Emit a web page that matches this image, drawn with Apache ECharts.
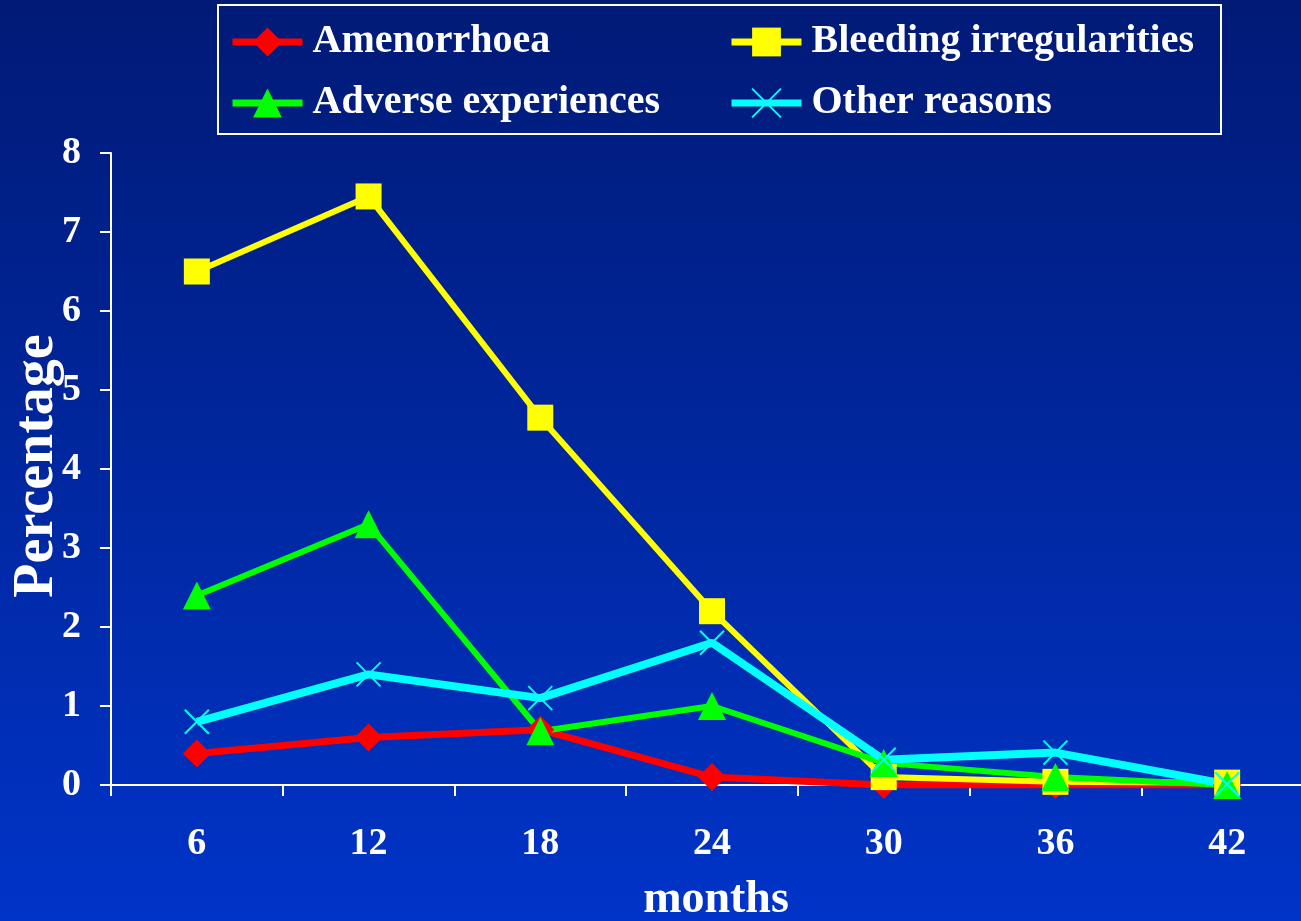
<!DOCTYPE html>
<html>
<head>
<meta charset="utf-8">
<script src="https://cdn.jsdelivr.net/npm/echarts@6/dist/echarts.min.js"></script>
<style>
html,body{margin:0;padding:0;background:#0028a0;overflow:hidden;}
#c{width:1313px;height:921px;}
</style>
</head>
<body>
<div id="c"></div>
<script>
const months = ['6', '12', '18', '24', '30', '36', '42'];
const amenorrhoea = [0.4, 0.6, 0.7, 0.1, 0.0, 0.0, 0.0];
const bleeding = [6.5, 7.45, 4.65, 2.2, 0.1, 0.04, 0.03];
const adverse = [2.4, 3.3, 0.68, 1.0, 0.28, 0.1, 0.0];
const other = [0.8, 1.4, 1.1, 1.8, 0.32, 0.41, 0.01];
const yTicks = [0, 1, 2, 3, 4, 5, 6, 7, 8];

const FONT = '"Liberation Serif", "Times New Roman", serif';
const chart = echarts.init(document.getElementById('c'), null, {renderer: 'canvas'});

const legendText = {color: '#ffffff', fontFamily: FONT, fontWeight: 'bold', fontSize: 40, lineHeight: 40, padding: [0, 0, 0, 5]};

chart.setOption({
  backgroundColor: {
    type: 'linear', x: 0, y: 0, x2: 0, y2: 1,
    colorStops: [{offset: 0, color: '#001a76'}, {offset: 1, color: '#0034c8'}]
  },
  animation: false,
  grid: {left: 111, top: 153, right: 0, bottom: 136, containLabel: false},
  legend: [
    {
      data: ['Amenorrhoea', 'Adverse experiences'],
      orient: 'vertical', left: 229, top: 22, padding: 0,
      itemWidth: 70, itemHeight: 36, itemGap: 21,
      lineStyle: {width: 7},
      textStyle: legendText
    },
    {
      data: ['Bleeding irregularities', 'Other reasons'],
      orient: 'vertical', left: 728, top: 22, padding: 0,
      itemWidth: 70, itemHeight: 36, itemGap: 21,
      lineStyle: {width: 7},
      textStyle: legendText
    }
  ],
  graphic: [
    {type: 'rect', shape: {x: 218, y: 5, width: 1003, height: 129},
     style: {fill: 'none', stroke: '#ffffff', lineWidth: 2}, z: 10},
    {type: 'text', x: 38, y: 466, rotation: Math.PI / 2,
     style: {text: 'Percentage', fill: '#ffffff', font: 'bold 56px ' + FONT, textAlign: 'center', textVerticalAlign: 'middle'}},
    {type: 'text', x: 716, y: 900,
     style: {text: 'months', fill: '#ffffff', font: 'bold 46px ' + FONT, textAlign: 'center', textVerticalAlign: 'middle'}}
  ],
  xAxis: {
    type: 'category', data: months, boundaryGap: true,
    axisLine: {lineStyle: {color: '#ffffff', width: 2}},
    axisTick: {show: true, length: 11, lineStyle: {color: '#ffffff', width: 2}},
    axisLabel: {color: '#ffffff', fontFamily: FONT, fontWeight: 'bold', fontSize: 38, margin: 40},
    splitLine: {show: false}
  },
  yAxis: {
    type: 'value', min: yTicks[0], max: yTicks[yTicks.length - 1], interval: 1,
    axisLine: {show: true, lineStyle: {color: '#ffffff', width: 2}},
    axisTick: {show: true, length: 11, lineStyle: {color: '#ffffff', width: 2}},
    axisLabel: {color: '#ffffff', fontFamily: FONT, fontWeight: 'bold', fontSize: 38, margin: 30},
    splitLine: {show: false}
  },
  series: [
    {
      name: 'Amenorrhoea', type: 'line', data: amenorrhoea,
      symbol: 'diamond', symbolSize: 28,
      lineStyle: {color: '#ff0000', width: 7},
      itemStyle: {color: '#ff0000'}
    },
    {
      name: 'Bleeding irregularities', type: 'line', data: bleeding,
      symbol: 'rect', symbolSize: 26,
      lineStyle: {color: '#ffff00', width: 6},
      itemStyle: {color: '#ffff00'}
    },
    {
      name: 'Adverse experiences', type: 'line', data: adverse,
      symbol: 'triangle', symbolSize: 28,
      lineStyle: {color: '#00ff00', width: 6},
      itemStyle: {color: '#00ff00'}
    },
    {
      name: 'Other reasons', type: 'line', data: other,
      symbol: 'path://M0,0L10,10M10,0L0,10', symbolSize: 24,
      lineStyle: {color: '#00ffff', width: 8},
      itemStyle: {color: '#00ffff', borderColor: '#00ffff', borderWidth: 2}
    }
  ]
});
</script>
</body>
</html>
